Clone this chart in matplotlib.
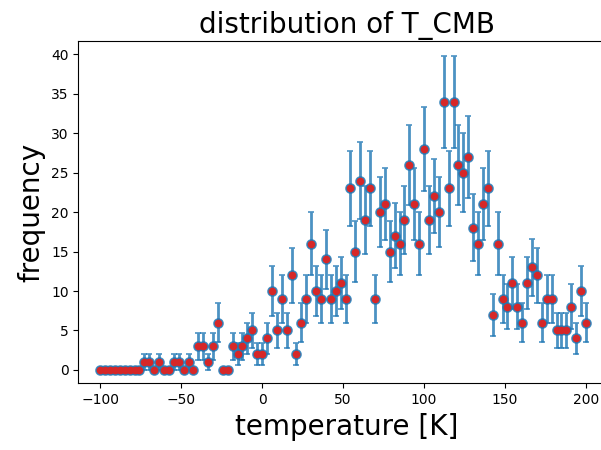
import numpy as np
import matplotlib
matplotlib.use("Agg")
import matplotlib.pyplot as plt

# bin centres of the T_CMB histogram
temperature = np.linspace(-100, 200, 100)

# counts per bin
counts = np.array([
    0, 0, 0, 0, 0, 0, 0, 0, 0, 1,
    1, 0, 1, 0, 0, 1, 1, 0, 1, 0,
    3, 3, 1, 3, 6, 0, 0, 3, 2, 3,
    4, 5, 2, 2, 4, 10, 5, 9, 5, 12,
    2, 6, 9, 16, 10, 9, 14, 9, 10, 11,
    9, 23, 15, 24, 19, 23, 9, 20, 21, 15,
    17, 16, 19, 26, 21, 16, 28, 19, 22, 20,
    34, 23, 34, 26, 25, 27, 18, 16, 21, 23,
    7, 16, 9, 8, 11, 8, 6, 11, 13, 12,
    6, 9, 9, 5, 5, 5, 8, 4, 10, 6,
])

# poisson errors
errors = np.sqrt(counts)

fig = plt.figure(figsize=(6.01, 4.5), dpi=100)
ax = fig.add_axes([0.1303, 0.1482, 0.893, 0.7607])

ax.errorbar(temperature, counts, yerr=errors, fmt="o", color="C0",
            ecolor="C0", elinewidth=2, capsize=2, alpha=0.8,
            markersize=6.5, markeredgewidth=1.2, zorder=2)
ax.plot(temperature, counts, "o", color="#d62728", markersize=4.5, zorder=3)

ax.set_xlim(-113.5, 217.9)
ax.set_ylim(-1.7, 41.7)
ax.set_xticks([-100, -50, 0, 50, 100, 150, 200])
ax.set_yticks(range(0, 41, 5))

ax.set_title("distribution of T_CMB", fontsize=20)
ax.set_xlabel("temperature [K]", fontsize=20)
ax.set_ylabel("frequency", fontsize=20)

fig.savefig("out.png", dpi=100)
